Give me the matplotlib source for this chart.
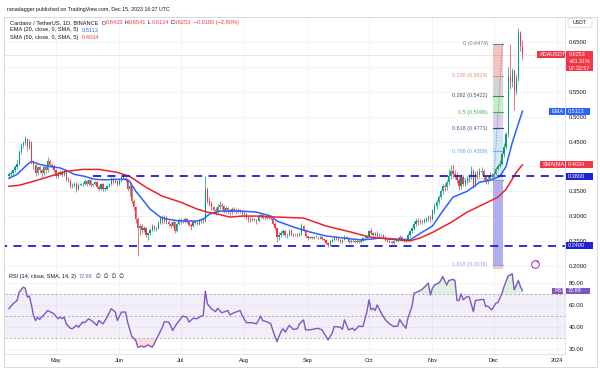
import numpy as np
import pandas as pd
import matplotlib
matplotlib.use("Agg")
import matplotlib.pyplot as plt
import matplotlib.dates as mdates
from matplotlib.transforms import blended_transform_factory
from matplotlib.patches import Rectangle, FancyBboxPatch

plt.rcParams['font.family'] = ['Liberation Sans', 'DejaVu Sans']

# ADA/USDT daily candles, 8 Apr - 15 Dec 2023
first_open = 0.380
close_apr = [0.384, 0.387, 0.392, 0.398, 0.405, 0.430, 0.444, 0.447, 0.455, 0.440, 0.450, 0.410, 0.402, 0.386, 0.398, 0.392, 0.386, 0.398, 0.392, 0.410, 0.402, 0.400, 0.392]
high_apr = [0.388, 0.390, 0.395, 0.402, 0.412, 0.434, 0.448, 0.452, 0.462, 0.458, 0.455, 0.452, 0.412, 0.404, 0.401, 0.400, 0.395, 0.402, 0.400, 0.418, 0.414, 0.406, 0.404]
low_apr = [0.376, 0.380, 0.383, 0.389, 0.395, 0.403, 0.426, 0.438, 0.444, 0.432, 0.436, 0.405, 0.395, 0.380, 0.383, 0.387, 0.378, 0.382, 0.386, 0.388, 0.398, 0.396, 0.388]
close_may = [0.380, 0.385, 0.388, 0.383, 0.390, 0.373, 0.372, 0.360, 0.362, 0.365, 0.355, 0.362, 0.364, 0.365, 0.370, 0.365, 0.372, 0.362, 0.364, 0.368, 0.358, 0.355, 0.365, 0.355, 0.355, 0.360, 0.364, 0.375, 0.368, 0.370, 0.365]
high_may = [0.394, 0.390, 0.392, 0.392, 0.394, 0.392, 0.378, 0.374, 0.366, 0.369, 0.368, 0.364, 0.367, 0.368, 0.374, 0.373, 0.375, 0.374, 0.367, 0.371, 0.370, 0.362, 0.367, 0.367, 0.358, 0.363, 0.367, 0.379, 0.378, 0.374, 0.372]
low_may = [0.376, 0.377, 0.382, 0.379, 0.381, 0.370, 0.368, 0.356, 0.356, 0.358, 0.349, 0.352, 0.360, 0.361, 0.362, 0.361, 0.362, 0.359, 0.360, 0.362, 0.356, 0.352, 0.353, 0.350, 0.350, 0.353, 0.358, 0.362, 0.365, 0.366, 0.360]
close_jun = [0.372, 0.378, 0.376, 0.374, 0.355, 0.360, 0.330, 0.318, 0.295, 0.275, 0.280, 0.272, 0.275, 0.262, 0.265, 0.272, 0.280, 0.274, 0.276, 0.286, 0.296, 0.290, 0.298, 0.288, 0.285, 0.280, 0.288, 0.270, 0.284, 0.292]
high_jun = [0.376, 0.382, 0.382, 0.379, 0.375, 0.368, 0.362, 0.334, 0.320, 0.298, 0.284, 0.284, 0.280, 0.278, 0.268, 0.276, 0.284, 0.282, 0.278, 0.290, 0.300, 0.302, 0.302, 0.300, 0.292, 0.288, 0.292, 0.290, 0.287, 0.296]
low_jun = [0.362, 0.368, 0.372, 0.368, 0.350, 0.340, 0.326, 0.312, 0.286, 0.220, 0.262, 0.266, 0.268, 0.258, 0.252, 0.262, 0.270, 0.270, 0.270, 0.274, 0.284, 0.285, 0.286, 0.284, 0.280, 0.276, 0.278, 0.266, 0.268, 0.282]
close_jul = [0.290, 0.290, 0.294, 0.288, 0.283, 0.280, 0.288, 0.287, 0.285, 0.290, 0.292, 0.290, 0.355, 0.330, 0.325, 0.318, 0.312, 0.310, 0.318, 0.322, 0.320, 0.310, 0.316, 0.312, 0.308, 0.314, 0.312, 0.310, 0.312, 0.310, 0.305]
high_jul = [0.296, 0.294, 0.298, 0.297, 0.292, 0.286, 0.291, 0.292, 0.290, 0.294, 0.296, 0.296, 0.380, 0.358, 0.338, 0.330, 0.320, 0.318, 0.324, 0.330, 0.326, 0.322, 0.320, 0.318, 0.314, 0.318, 0.318, 0.316, 0.316, 0.314, 0.312]
low_jul = [0.284, 0.286, 0.286, 0.286, 0.280, 0.272, 0.278, 0.284, 0.282, 0.283, 0.286, 0.287, 0.288, 0.326, 0.320, 0.312, 0.306, 0.302, 0.306, 0.314, 0.314, 0.306, 0.306, 0.304, 0.302, 0.304, 0.308, 0.305, 0.306, 0.306, 0.300]
close_aug = [0.305, 0.298, 0.294, 0.292, 0.295, 0.293, 0.290, 0.300, 0.302, 0.297, 0.296, 0.298, 0.297, 0.295, 0.285, 0.275, 0.258, 0.262, 0.265, 0.270, 0.262, 0.262, 0.270, 0.262, 0.264, 0.263, 0.262, 0.264, 0.280, 0.272, 0.260]
high_aug = [0.310, 0.308, 0.300, 0.298, 0.298, 0.297, 0.295, 0.305, 0.306, 0.305, 0.300, 0.300, 0.300, 0.299, 0.297, 0.288, 0.278, 0.268, 0.270, 0.274, 0.272, 0.266, 0.274, 0.274, 0.266, 0.266, 0.265, 0.267, 0.286, 0.283, 0.274]
low_aug = [0.298, 0.294, 0.288, 0.288, 0.290, 0.290, 0.284, 0.288, 0.296, 0.294, 0.292, 0.294, 0.294, 0.292, 0.282, 0.271, 0.248, 0.252, 0.258, 0.262, 0.258, 0.256, 0.259, 0.259, 0.258, 0.260, 0.258, 0.260, 0.262, 0.270, 0.256]
close_sep = [0.256, 0.257, 0.256, 0.258, 0.258, 0.257, 0.258, 0.254, 0.252, 0.246, 0.242, 0.250, 0.252, 0.255, 0.254, 0.252, 0.247, 0.252, 0.258, 0.256, 0.248, 0.250, 0.250, 0.248, 0.249, 0.247, 0.250, 0.256, 0.256, 0.260]
high_sep = [0.262, 0.260, 0.260, 0.260, 0.261, 0.260, 0.261, 0.259, 0.256, 0.253, 0.248, 0.252, 0.256, 0.258, 0.257, 0.256, 0.254, 0.254, 0.262, 0.260, 0.257, 0.253, 0.253, 0.252, 0.252, 0.251, 0.253, 0.258, 0.260, 0.262]
low_sep = [0.252, 0.254, 0.253, 0.254, 0.255, 0.254, 0.254, 0.252, 0.250, 0.244, 0.238, 0.240, 0.248, 0.250, 0.251, 0.250, 0.245, 0.246, 0.251, 0.254, 0.246, 0.246, 0.248, 0.246, 0.246, 0.245, 0.245, 0.249, 0.252, 0.255]
close_oct = [0.270, 0.265, 0.262, 0.266, 0.260, 0.262, 0.262, 0.258, 0.252, 0.250, 0.248, 0.246, 0.249, 0.250, 0.254, 0.258, 0.252, 0.250, 0.252, 0.262, 0.270, 0.275, 0.284, 0.290, 0.288, 0.290, 0.288, 0.292, 0.294, 0.298, 0.295]
high_oct = [0.272, 0.276, 0.268, 0.268, 0.268, 0.265, 0.264, 0.264, 0.259, 0.254, 0.252, 0.250, 0.252, 0.253, 0.256, 0.262, 0.260, 0.255, 0.255, 0.265, 0.272, 0.278, 0.290, 0.296, 0.296, 0.294, 0.293, 0.296, 0.298, 0.303, 0.302]
low_oct = [0.258, 0.262, 0.260, 0.260, 0.257, 0.258, 0.259, 0.255, 0.249, 0.247, 0.245, 0.243, 0.244, 0.247, 0.248, 0.252, 0.250, 0.247, 0.248, 0.250, 0.258, 0.266, 0.272, 0.280, 0.282, 0.284, 0.284, 0.286, 0.288, 0.290, 0.288]
close_nov = [0.310, 0.320, 0.328, 0.338, 0.350, 0.360, 0.358, 0.368, 0.380, 0.390, 0.385, 0.382, 0.372, 0.360, 0.378, 0.365, 0.370, 0.374, 0.380, 0.390, 0.362, 0.385, 0.382, 0.388, 0.390, 0.378, 0.370, 0.375, 0.382, 0.378]
high_nov = [0.314, 0.326, 0.333, 0.342, 0.355, 0.364, 0.367, 0.372, 0.395, 0.402, 0.405, 0.392, 0.388, 0.378, 0.385, 0.382, 0.376, 0.380, 0.385, 0.400, 0.395, 0.390, 0.392, 0.396, 0.398, 0.394, 0.380, 0.380, 0.388, 0.386]
low_nov = [0.292, 0.305, 0.315, 0.324, 0.334, 0.345, 0.350, 0.352, 0.362, 0.374, 0.376, 0.374, 0.366, 0.352, 0.355, 0.360, 0.360, 0.364, 0.368, 0.375, 0.356, 0.358, 0.374, 0.378, 0.382, 0.372, 0.364, 0.364, 0.370, 0.372]
close_dec = [0.385, 0.394, 0.400, 0.405, 0.425, 0.440, 0.465, 0.580, 0.570, 0.592, 0.552, 0.578, 0.668, 0.6433, 0.6253]
high_dec = [0.388, 0.398, 0.404, 0.412, 0.430, 0.448, 0.470, 0.600, 0.6474, 0.598, 0.596, 0.586, 0.678, 0.672, 0.6541]
low_dec = [0.376, 0.382, 0.392, 0.398, 0.402, 0.420, 0.436, 0.460, 0.556, 0.560, 0.514, 0.546, 0.572, 0.632, 0.6134]

closes = np.array(close_apr + close_may + close_jun + close_jul + close_aug + close_sep + close_oct + close_nov + close_dec)
highs = np.array(high_apr + high_may + high_jun + high_jul + high_aug + high_sep + high_oct + high_nov + high_dec)
lows = np.array(low_apr + low_may + low_jun + low_jul + low_aug + low_sep + low_oct + low_nov + low_dec)
opens = np.r_[first_open, closes[:-1]]
start = pd.Timestamp("2023-04-08")
dates = pd.date_range(start, periods=len(closes), freq="D")

# EMA 20 and SMA 50 (days after 8 Apr, value)
ema_day = [0, 4, 9, 11, 15, 20, 25, 28, 32, 37, 42, 47, 52, 57, 59, 62, 64, 69, 74, 77, 84, 92, 95, 98, 103, 114, 121, 128, 131, 139, 147, 155, 163, 172, 178, 181, 188, 196, 201, 207, 212, 217, 224, 230, 235, 240, 243, 246, 251]
ema_val = [0.376, 0.384, 0.404, 0.41, 0.404, 0.40, 0.397, 0.392, 0.384, 0.38, 0.374, 0.373, 0.374, 0.374, 0.37, 0.35, 0.34, 0.314, 0.298, 0.294, 0.29, 0.29, 0.294, 0.304, 0.31, 0.31, 0.308, 0.30, 0.29, 0.278, 0.268, 0.26, 0.256, 0.252, 0.254, 0.256, 0.254, 0.252, 0.265, 0.28, 0.31, 0.338, 0.35, 0.368, 0.372, 0.38, 0.40, 0.448, 0.5113]
sma_day = [0, 5, 12, 20, 28, 36, 44, 53, 59, 67, 75, 84, 92, 97, 102, 108, 114, 121, 131, 144, 155, 167, 176, 185, 196, 201, 207, 216, 224, 232, 239, 243, 248, 251]
sma_val = [0.36, 0.362, 0.37, 0.38, 0.39, 0.394, 0.394, 0.388, 0.38, 0.358, 0.34, 0.328, 0.314, 0.308, 0.304, 0.298, 0.30, 0.30, 0.298, 0.296, 0.28, 0.268, 0.258, 0.254, 0.25, 0.256, 0.267, 0.287, 0.308, 0.324, 0.338, 0.354, 0.388, 0.4034]

rsi_day = [0, 2, 4, 5, 7, 8, 9, 10, 11, 12, 13, 14, 15, 17, 19, 22, 24, 25, 26, 27, 28, 30, 31, 33, 34, 36, 37, 39, 41, 43,
           44, 46, 48, 50, 52, 53, 55, 57, 58, 60, 62, 63, 65, 66, 68, 70, 71, 73, 75, 76, 78, 79, 80, 82, 84, 85, 87, 88, 90, 92,
           93, 95, 96, 97, 99, 101, 102, 104, 107, 108, 110, 113, 114, 116, 119, 121, 123, 124, 126, 128, 129, 131, 133, 134, 135, 137, 139, 141, 142, 144,
           145, 147, 151, 153, 154, 156, 158, 159, 162, 163, 164, 166, 168, 169, 171, 173, 174, 175, 176, 177, 178, 179, 180, 182, 184, 186, 188, 190, 191, 192,
           194, 195, 197, 198, 200, 202, 203, 205, 206, 207, 208, 210, 211, 212, 214, 215, 217, 218, 219, 220, 221, 222, 224, 225, 227, 228, 230, 232, 233, 234,
           236, 238, 239, 241, 242, 244, 246, 247, 249, 250, 251]
rsi_val = [56.6, 61, 64, 71.6, 76, 75, 67, 68, 60, 50.6, 46, 49, 47, 51, 55, 52, 47.6, 49, 47.6, 49, 43, 39, 38.6, 41.6, 40, 44.6, 44, 47.6, 45, 41.6,
           46, 43, 49, 56.6, 53.6, 46, 53.6, 53.6, 44.6, 32, 28, 22, 23, 22, 24, 22, 25, 32.6, 40, 45, 44.6, 41.6, 37, 43, 47.6, 50, 49, 44.6, 48, 47.6,
           49, 50.6, 72.5, 61, 56.6, 54, 57, 53, 55, 51, 53, 55, 50.6, 44, 44, 43, 50, 46, 45, 43, 37, 27, 36, 38.6, 35.6, 41.6, 38, 38.6, 43, 46.6,
           37.6, 37.6, 39, 37.6, 34.6, 28.6, 34.6, 40.6, 40, 38, 46.6, 37.6, 39, 37, 41, 40.6, 47, 54, 64.6, 55.6, 57, 55, 60, 52.6, 46.6, 43, 40.6, 41, 47, 44,
           39, 48, 58.6, 70.6, 72, 74, 76, 79.6, 69, 75, 78, 79.6, 81.7, 85.6, 78, 82, 83, 82, 64, 64, 70, 64.6, 67.6, 67, 54, 64, 64.6, 65, 58.6, 59,
           55.6, 61.6, 62, 70.6, 76.6, 86, 88, 73.6, 82, 76.6, 72.68]

# fib retracement drawn on the chart
fib_ratio = ["0", "0.236", "0.382", "0.5", "0.618", "0.786", "1", "1.618"]
fib_price = [0.6474, 0.5824, 0.5422, 0.5096, 0.4771, 0.4309, 0.3720, 0.2016]
fib_from, fib_to = pd.Timestamp("2023-11-30 12:00"), pd.Timestamp("2023-12-05 12:00")

# horizontal support lines
support = [0.38, 0.24]
support_from = ["2023-05-19", "2023-04-01"]

W, H = 600, 371
DARK, RED, GREEN, BLUE, LBLUE, PURPLE = '#131722', '#f23645', '#089981', '#1f1fd6', '#2962ff', '#7e57c2'
GRID, SEP = '#f0f3fa', '#e0e3eb'

fig = plt.figure(figsize=(6, 3.71), dpi=100)
fig.patch.set_facecolor('white')


def fx(px):
    return px / W


def fy(py):
    return 1 - py / H


ax = fig.add_axes([fx(5), fy(269), fx(565) - fx(5), fy(16.7) - fy(269)])
rax = fig.add_axes([fx(5), fy(354), fx(565) - fx(5), fy(269) - fy(354)], sharex=ax)

x_left, x_right = pd.Timestamp("2023-04-06 02:00"), pd.Timestamp("2024-01-04 19:00")
ax.set_xlim(x_left, x_right)
ax.set_ylim(0.1934, 0.7016)
rax.set_ylim(15.9, 92.3)

months = pd.date_range("2023-05-01", "2024-01-01", freq="MS")
month_lbl = ["May", "Jun", "Jul", "Aug", "Sep", "Oct", "Nov", "Dec", "2024"]

for a in (ax, rax):
    a.set_facecolor('white')
    for s in ('top', 'left'):
        a.spines[s].set_visible(False)
    for s in ('right', 'bottom'):
        a.spines[s].set_color(SEP)
        a.spines[s].set_linewidth(0.7)
    a.yaxis.tick_right()
    a.tick_params(axis='y', length=0, pad=2.4, labelsize=4.3, labelcolor=DARK)
    a.set_xticks(months)
    a.grid(color=GRID, lw=0.6, zorder=0)
    a.set_axisbelow(True)

ax.tick_params(axis='x', length=0, labelbottom=False)
rax.set_xticklabels(month_lbl)
rax.tick_params(axis='x', length=0, pad=2.6, labelsize=4.0, labelcolor=DARK)

# 0.6000 and 0.4000 sit under the price tags on the scale, so they stay blank
price_ticks = np.arange(0.20, 0.651, 0.05)
ax.set_yticks(price_ticks)
ax.set_yticklabels(["" if round(v, 2) in (0.6, 0.4) else f"{v:.4f}" for v in price_ticks])
rax.set_yticks([20, 40, 60, 80])
rax.set_yticklabels(["20.00", "40.00", "60.00", "80.00"])

# fib retracement block
band_cols = ['#f6c3c5', '#d4d4d6', '#c9ecc9', '#d8cdec', '#cde5f6', '#d3e8f3', '#b0b0f0']
line_cols = ['#787b86', '#f28b82', '#388e3c', '#4caf50', '#4a3c8c', '#64b5f6', '#9598a1', '#9c9ce8']
text_cols = ['#787b86', '#f28b82', '#50535e', '#4caf50', '#5e4a9c', '#64a7d9', '#b2b5be', '#9a9ae6']
fx0, fx1 = mdates.date2num(fib_from), mdates.date2num(fib_to)
for i, fc in enumerate(band_cols):
    ax.fill_between([fx0, fx1], fib_price[i + 1], fib_price[i], color=fc, lw=0, zorder=1)
ax.fill_between([fx0, fx1], 0.18, fib_price[-1], color='#f5c6c6', lw=0, zorder=1)
for r, p, lc, tc in zip(fib_ratio, fib_price, line_cols, text_cols):
    ax.plot([fx0, fx1], [p, p], color=lc, lw=0.8, zorder=1.5)
    ax.annotate(f"{r} ({p:.4f})", (fx0, p), xytext=(-3.5, 0), textcoords='offset points',
                ha='right', va='center', fontsize=3.9, color=tc, zorder=2)
ax.plot([fx0 + 0.5, fx1 - 0.3], [fib_price[6], fib_price[0]], color='#787b86', lw=0.5, ls=(0, (2, 2)), zorder=1.6)

# candles
up = closes >= opens
cols = np.where(up, GREEN, RED)
body_lo = np.minimum(opens, closes)
body_hi = np.maximum(opens, closes)
ax.vlines(dates, np.minimum(lows, body_lo), np.maximum(highs, body_hi), colors=cols, lw=0.5, zorder=3)
ax.bar(dates, np.maximum(body_hi - body_lo, 0.0008), bottom=body_lo, width=0.62, color=cols, lw=0, zorder=3)

# moving averages
ax.plot(start + pd.to_timedelta(ema_day, unit='D'), ema_val, color=LBLUE, lw=1.1, zorder=4)
ax.plot(start + pd.to_timedelta(sma_day, unit='D'), sma_val, color='#e8232e', lw=1.1, zorder=4)

# support lines and last-price line
for lvl, frm in zip(support, support_from):
    ax.hlines(lvl, pd.Timestamp(frm), x_right, color=BLUE, lw=1.3, ls=(0, (4.5, 3.5)), zorder=5)
ax.axhline(closes[-1], color=RED, lw=0.5, ls=(0, (1, 2)), alpha=0.7, zorder=2)

# RSI pane
rx = mdates.date2num(start + pd.to_timedelta(rsi_day, unit='D'))
rv = np.array(rsi_val)
rax.axhspan(30, 70, color=PURPLE, alpha=0.09, lw=0, zorder=1)
for lvl in (70, 50, 30):
    rax.axhline(lvl, color='#787b86', lw=0.5, ls=(0, (3, 3)), alpha=0.8, zorder=2)
rax.fill_between(rx, rv, 70, where=rv >= 70, interpolate=True, color='#4caf50', alpha=0.18, lw=0, zorder=2)
rax.fill_between(rx, rv, 30, where=rv <= 30, interpolate=True, color='#f23645', alpha=0.18, lw=0, zorder=2)
rax.plot(rx, rv, color=PURPLE, lw=1.0, zorder=3)


def tag(axis, y, s, fc, x0, x1, h=8, tc='white', fs=4.0):
    tr = blended_transform_factory(fig.transFigure, axis.transData)
    lo, hi = axis.get_ylim()
    upp = (hi - lo) / (axis.get_position().height * H)
    axis.add_patch(Rectangle((fx(x0), y - h / 2 * upp), (x1 - x0) / W, h * upp, transform=tr,
                             fc=fc, ec='none', zorder=20, clip_on=False))
    axis.text(fx(x0 + 2.5), y, s, transform=tr, fontsize=fs, color=tc, ha='left', va='center',
              zorder=21, clip_on=False)


tag(ax, closes[-1], "ADAUSDT", RED, 537, 565, h=7.3)
tag(ax, ema_val[-1], "EMA", LBLUE, 549, 564.5, h=7.3)
tag(ax, ema_val[-1], f"{ema_val[-1]:.4f}", LBLUE, 565.5, 590, h=7.3)
tag(ax, sma_val[-1], "SMA(MA", RED, 540, 564.5, h=7)
tag(ax, sma_val[-1], f"{sma_val[-1]:.4f}", RED, 565.5, 593, h=7)
for lvl in support:
    tag(ax, lvl, f"{lvl:.4f}", BLUE, 565.5, 593, h=7)
tag(rax, rsi_val[-1], "RSI", PURPLE, 552, 563, h=6.5)
tag(rax, rsi_val[-1], f"{rsi_val[-1]:.2f}", PURPLE, 565.5, 590, h=6.5)

# last price block on the scale
fig.add_artist(Rectangle((fx(566), fy(71.3)), 27 / W, 20.6 / H, transform=fig.transFigure,
                         fc=RED, ec='none', zorder=20))
for yy, s in zip([54.3, 61.5, 68.0], [f"{closes[-1]:.4f}", "+63.31%", "07:32:57"]):
    fig.text(fx(568.5), fy(yy), s, fontsize=4.0, color='white', ha='left', va='center', zorder=21)

# USDT unit box
fig.add_artist(FancyBboxPatch((fx(568), fy(27.3)), 24 / W, 9 / H, boxstyle='round,pad=0,rounding_size=0.004',
                              transform=fig.transFigure, fc='white', ec='#d1d4dc', lw=0.5))
fig.text(fx(580), fy(22.8), "USDT", fontsize=3.8, color=DARK, ha='center', va='center')

# small alert icon
ax.plot([fx(535)], [fy(263.5)], marker='o', ms=5.5, mfc='white', mec='#9c27b0', mew=0.7,
        transform=fig.transFigure, clip_on=False, zorder=22)
ax.plot([fx(537.3)], [fy(261.3)], marker='o', ms=1.6, mfc=RED, mec='none',
        transform=fig.transFigure, clip_on=False, zorder=23)

# outer frame
fig.add_artist(Rectangle((fx(4), fy(367)), 593 / W, 350.3 / H, transform=fig.transFigure,
                         fill=False, ec='#d1d4dc', lw=0.6))

renderer = fig.canvas.get_renderer()


def text_run(x_px, y_px, parts, size):
    for s, c in parts:
        t = fig.text(fx(x_px), fy(y_px), s, color=c, fontsize=size, ha='left', va='center', zorder=25)
        x_px += t.get_window_extent(renderer).width


fig.text(fx(7), fy(10), "ranadagger published on TradingView.com, Dec 15, 2023 16:27 UTC",
         fontsize=3.8, color=DARK, ha='left', va='center')
text_run(10, 22.7, [("Cardano / TetherUS, 1D, BINANCE  O", DARK), ("0.6433", RED), (" H", DARK), ("0.6541", RED),
                    (" L", DARK), ("0.6134", RED), (" C", DARK), ("0.6253", RED), (" \u22120.0180 (\u22122.80%)", RED)], 4.1)
text_run(10, 30.0, [("EMA (20, close, 0, SMA, 5)  ", DARK), (f"{ema_val[-1]:.4f}", LBLUE)], 4.1)
text_run(10, 37.3, [("SMA (50, close, 0, SMA, 5)  ", DARK), (f"{sma_val[-1]:.4f}", RED)], 4.1)
text_run(9, 276.3, [("RSI (14, close, SMA, 14, 2)  ", DARK), (f"{rsi_val[-1]:.2f}", PURPLE),
                    ("  \u2205  \u2205  \u2205  \u2205", DARK)], 4.0)

fig.savefig("out.png", dpi=100)
